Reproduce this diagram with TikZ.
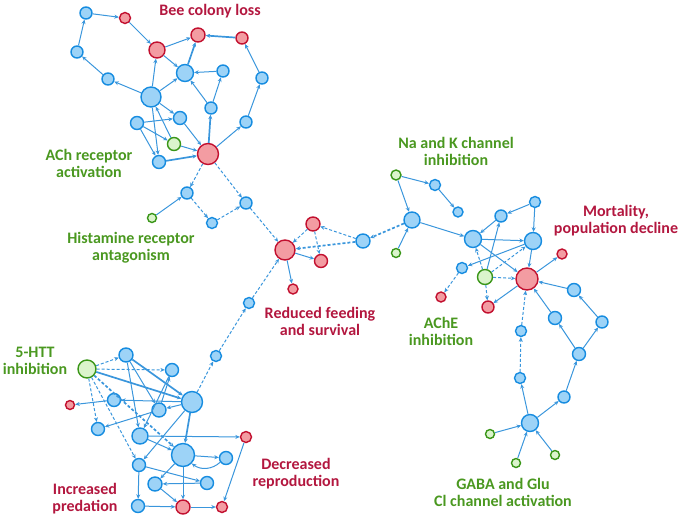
\documentclass[tikz,border=0pt]{standalone}
\usepackage{fontspec}
\setmainfont{Carlito}
\usetikzlibrary{arrows.meta}
\definecolor{bfill}{HTML}{9DD3F7}
\definecolor{bdraw}{HTML}{168CE0}
\definecolor{rfill}{HTML}{F39CA2}
\definecolor{rdraw}{HTML}{C2102F}
\definecolor{gfill}{HTML}{DBF4CC}
\definecolor{gdraw}{HTML}{3A9618}
\definecolor{ecol}{HTML}{3A96DC}
\definecolor{rtext}{HTML}{B3173F}
\definecolor{gtext}{HTML}{4A9820}
\tikzset{
  kb/.style={circle,draw=bdraw,fill=bfill,line width=1.4pt,inner sep=0pt,minimum size=#1},
  kr/.style={circle,draw=rdraw,fill=rfill,line width=1.4pt,inner sep=0pt,minimum size=#1},
  kg/.style={circle,draw=gdraw,fill=gfill,line width=1.4pt,inner sep=0pt,minimum size=#1},
  ed/.style={draw=ecol,line width=1pt,-{Stealth[length=4.5pt,width=4pt]}},
  dd/.style={ed,dash pattern=on 3pt off 2pt},
  th/.style={line width=1.7pt},
  lr/.style={text=rtext,font=\fontsize{16}{17}\selectfont\bfseries,align=center},
  lg/.style={text=gtext,font=\fontsize{16}{17}\selectfont\bfseries,align=center}
}
\begin{document}
\begin{tikzpicture}[x=1pt,y=-1pt]
\useasboundingbox (0,0) rectangle (685,520);
% ---------- top cluster ----------
\node[kb=12] (a1) at (86,13) {};
\node[kr=11] (r1) at (125,18) {};
\node[kr=16] (r2) at (157,50) {};
\node[kr=14] (r3) at (198,35) {};
\node[kr=12] (r4) at (242,38) {};
\node[kb=12] (b2) at (77,52) {};
\node[kb=12] (b3) at (108,79) {};
\node[kb=20] (b4) at (151,97) {};
\node[kb=17] (b5) at (185,73) {};
\node[kb=12] (b6) at (223,71) {};
\node[kb=12] (b7) at (262,78) {};
\node[kb=12] (b8) at (211,108) {};
\node[kb=12] (b9) at (246,122) {};
\node[kb=13] (b10) at (137,123) {};
\node[kb=13] (b11) at (180,118) {};
\node[kg=13] (g1) at (174,144) {};
\node[kr=21] (R) at (208,154) {};
\node[kb=13] (b12) at (159,162) {};
\node[kb=12] (b13) at (187,193) {};
\node[kb=12] (b14) at (246,203) {};
\node[kb=11] (b15) at (212,223) {};
\node[kg=9] (g2) at (152,218) {};
% ---------- middle ----------
\node[kr=20] (Rf) at (285,250) {};
\node[kr=14] (rf1) at (313,224) {};
\node[kr=13] (rf2) at (321,261) {};
\node[kr=10] (rf3) at (293,289) {};
\node[kb=14] (d1) at (363,241) {};
\node[kb=16] (d2) at (412,220) {};
\node[kg=9] (g4) at (396,253) {};
\node[kg=10] (g5) at (396,175) {};
\node[kb=11] (e1) at (435,185) {};
\node[kb=10] (e2) at (458,212) {};
\node[kb=11] (c0) at (249,303) {};
\node[kb=11] (c3) at (216,356) {};
% ---------- right cluster ----------
\node[kb=17] (e3) at (473,239) {};
\node[kb=12] (e4) at (501,216) {};
\node[kb=11] (e5) at (535,202) {};
\node[kb=17] (e6) at (533,241) {};
\node[kr=10] (r9) at (562,254) {};
\node[kr=22] (M) at (527,279) {};
\node[kg=15] (g6) at (485,277) {};
\node[kb=11] (e7) at (462,268) {};
\node[kr=10] (r10) at (441,297) {};
\node[kr=12] (r11) at (488,307) {};
\node[kb=13] (e8) at (574,290) {};
\node[kb=13] (e9) at (555,318) {};
\node[kb=12] (e10) at (602,322) {};
\node[kb=11] (e11) at (521,331) {};
\node[kb=13] (e14) at (579,354) {};
\node[kb=11] (e15) at (520,378) {};
\node[kb=12] (e16) at (564,397) {};
\node[kb=17] (e17) at (530,423) {};
\node[kg=9] (g7) at (490,434) {};
\node[kg=9] (g8) at (516,463) {};
\node[kg=9] (g9) at (555,455) {};
% ---------- lower-left cluster ----------
\node[kg=18] (g3) at (87,369) {};
\node[kb=14] (c1) at (126,355) {};
\node[kb=13] (c2) at (172,370) {};
\node[kb=21] (c4) at (192,402) {};
\node[kb=13] (c5) at (114,400) {};
\node[kb=14] (c6) at (159,410) {};
\node[kr=9] (r5) at (70,405) {};
\node[kb=13] (c7) at (98,429) {};
\node[kb=16] (c8) at (140,436) {};
\node[kb=23] (c9) at (183,455) {};
\node[kr=11] (r6) at (246,437) {};
\node[kb=13] (c10) at (226,458) {};
\node[kb=13] (c11) at (139,465) {};
\node[kb=14] (c12) at (155,484) {};
\node[kb=13] (c13) at (207,483) {};
\node[kb=13] (c14) at (138,506) {};
\node[kr=14] (r7) at (183,507) {};
\node[kr=11] (r8) at (222,507) {};
% ---------- edges: top ----------
\draw[ed] (a1) -- (r1);
\draw[ed] (b2) -- (a1);
\draw[ed] (b3) -- (b2);
\draw[ed] (b4) -- (b3);
\draw[ed] (r1) -- (r2);
\draw[ed] (r2) -- (r3);
\draw[ed,th] (r4) -- (r3);
\draw[ed] (b7) -- (r4);
\draw[ed] (b9) -- (b7);
\draw[ed] (R) -- (b9);
\draw[ed] (b4) -- (r2);
\draw[ed] (r2) -- (b5);
\draw[ed] (b4) -- (b5);
\draw[ed,th] (b5) -- (r3);
\draw[ed] (b6) -- (b5);
\draw[ed] (b8) -- (b6);
\draw[ed] (b8) -- (b5);
\draw[ed,th] (R) -- (b8);
\draw[ed] (b4) -- (b11);
\draw[ed] (b10) -- (b11);
\draw[ed] (b10) -- (b12);
\draw[ed] (b4) -- (b12);
\draw[ed] (g1) -- (b4);
\draw[ed] (b10) -- (g1);
\draw[ed] (b11) -- (R);
\draw[ed] (g1) -- (R);
\draw[ed,th] (b12) -- (R);
\draw[dd] (R) -- (b13);
\draw[dd] (R) -- (b14);
\draw[ed] (g2) -- (b13);
\draw[dd] (b13) -- (b15);
\draw[dd] (b15) -- (b14);
\draw[dd] (b14) -- (Rf);
% ---------- edges: middle ----------
\draw[dd] (rf1) -- (Rf);
\draw[dd,th] (d1) -- (Rf);
\draw[dd] (d1) -- (rf1);
\draw[dd] (rf1) -- (rf2);
\draw[ed] (Rf) -- (rf2);
\draw[ed] (Rf) -- (rf3);
\draw[dd] (c0) -- (Rf);
\draw[dd] (c3) -- (c0);
\draw[dd] (c4) -- (c3);
\draw[dd,th] (d2) -- (d1);
\draw[ed] (g4) -- (d2);
\draw[ed] (g5) -- (d2);
\draw[ed] (g5) -- (e1);
\draw[ed] (e1) -- (e2);
\draw[ed] (d2) -- (e3);
% ---------- edges: right ----------
\draw[ed] (e4) -- (e3);
\draw[ed] (e5) -- (e4);
\draw[ed] (e5) -- (e6);
\draw[ed] (e3) -- (e6);
\draw[ed] (e3) -- (M);
\draw[ed] (e6) -- (M);
\draw[ed] (M) -- (r9);
\draw[ed] (e6) -- (e7);
\draw[ed] (g6) -- (e4);
\draw[dd] (g6) -- (e3);
\draw[dd] (g6) -- (e6);
\draw[dd] (g6) -- (M);
\draw[dd] (g6) -- (r11);
\draw[dd] (e7) -- (r10);
\draw[ed] (M) -- (r11);
\draw[dd] (e11) -- (M);
\draw[ed] (e9) -- (M);
\draw[ed] (e8) -- (M);
\draw[ed] (g7) -- (e17);
\draw[ed] (g8) -- (e17);
\draw[ed] (g9) -- (e17);
\draw[ed] (e17) -- (e15);
\draw[dd] (e15) -- (e11);
\draw[ed] (e17) -- (e16);
\draw[ed] (e16) -- (e14);
\draw[ed] (e14) -- (e9);
\draw[ed] (e14) -- (e10);
\draw[ed] (e10) -- (e8);
% ---------- edges: lower-left ----------
\draw[dd] (g3) -- (c1);
\draw[dd] (g3) -- (c2);
\draw[ed,th] (g3) -- (c4);
\draw[dd] (g3) -- (c7);
\draw[dd] (g3) -- (c11);
\draw[dd,th] (g3) -- (c9);
\draw[ed,th] (c1) -- (c4);
\draw[ed] (c1) -- (c8);
\draw[ed] (c1) -- (c6);
\draw[ed] (c6) -- (c2);
\draw[ed] (c2) -- (c8);
\draw[ed] (c4) -- (c5);
\draw[ed] (c5) -- (r5);
\draw[ed] (c4) -- (c6);
\draw[ed] (c6) -- (c7);
\draw[ed,th] (c4) -- (c9);
\draw[ed] (c4) -- (c11);
\draw[ed] (c8) -- (r6);
\draw[ed] (c8) -- (c9);
\draw[ed] (c9) -- (c10);
\draw[ed] (c10) to[bend left=40] (c9);
\draw[ed] (c13) -- (c12);
\draw[ed] (c9) -- (r7);
\draw[ed] (c11) -- (c13);
\draw[ed] (c11) -- (c14);
\draw[ed] (c9) -- (c12);
\draw[ed] (c12) -- (r7);
\draw[ed] (c14) -- (r7);
\draw[ed] (r7) -- (r8);
\draw[ed] (r6) -- (r8);
% ---------- labels ----------
\node[lr] (tBee) at (210,11) {Bee colony loss};
\node[lg] (tACh) at (89,163) {ACh receptor\\activation};
\node[lg] (tHis) at (131,248) {Histamine receptor\\antagonism};
\node[lg] (tNa) at (456,151) {Na and K channel\\inhibition};
\node[lr] (tMor) at (616,221) {Mortality,\\population decline};
\node[lr] (tRed) at (320,321) {Reduced feeding\\and survival};
\node[lg] (tAChE) at (441,331) {AChE\\inhibition};
\node[lg] (tGABA) at (503,492) {GABA and Glu\\Cl channel activation};
\node[lg] (tHTT) at (35,361) {5-HTT\\inhibition};
\node[lr] (tPred) at (85,499) {Increased\\predation};
\node[lr] (tRep) at (296,474) {Decreased\\reproduction};
\end{tikzpicture}
\end{document}
